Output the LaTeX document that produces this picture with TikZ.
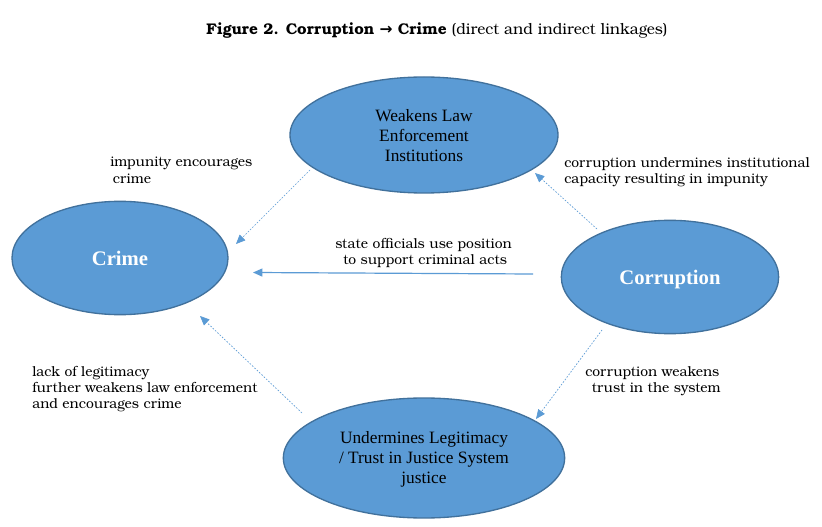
\documentclass[tikz,border=0pt]{standalone}
\usepackage{fontspec}
\setmainfont{Liberation Serif}
\newfontfamily\bonum{TeX Gyre Bonum}
\newfontfamily\arrowfont{DejaVu Sans}
\usetikzlibrary{shapes.geometric,arrows.meta}
\definecolor{ellfill}{HTML}{5B9BD5}
\definecolor{elldraw}{HTML}{41719C}
\definecolor{arrcol}{HTML}{5B9BD5}
\newcommand{\lowerby}[2]{\raisebox{-#1}[\height][\depth]{#2}}
\tikzset{
  bubble/.style={ellipse, draw=elldraw, line width=1pt, fill=ellfill, inner sep=0pt, align=center},
  bubtext/.style={font=\fontsize{13}{15}\selectfont},
  bigtext/.style={font=\fontsize{15.5}{18}\selectfont\bfseries, text=white},
  lbl/.style={font=\bonum\fontsize{10.4}{12.2}\selectfont, align=left, inner sep=0pt, anchor=north west},
  dotarrow/.style={draw=arrcol, line width=0.5pt, dash pattern=on 1.2pt off 1.2pt, -{Triangle[length=7pt,width=6pt,fill=arrcol]}},
  solidarrow/.style={draw=arrcol, line width=0.9pt, -{Triangle[length=7pt,width=6pt,fill=arrcol]}}
}
\begin{document}
\begin{tikzpicture}[x=0.75pt,y=-0.75pt]
\useasboundingbox[fill=white] (0,0) rectangle (822,527);
% title
\node[font=\bonum\fontsize{11.6}{13}\selectfont, anchor=base, inner sep=0pt] (title) at (437,35)
  {\textbf{Figure 2. Corruption {\arrowfont\bfseries →} Crime} (direct and indirect linkages)};
% ellipses
\node[bubble, bubtext, minimum width=201pt, minimum height=87pt] (weak) at (424,135)
  {\lowerby{2pt}{\begin{tabular}{@{}c@{}}Weakens Law\\Enforcement\\Institutions\end{tabular}}};
\node[bubble, bigtext, minimum width=162pt, minimum height=85pt] (crime) at (120,258) {Crime};
\node[bubble, bigtext, minimum width=163pt, minimum height=85pt] (corr) at (670,277) {\lowerby{2pt}{Corruption}};
\node[bubble, bubtext, minimum width=211pt, minimum height=90pt] (legit) at (424,458)
  {\lowerby{1.5pt}{\begin{tabular}{@{}c@{}}Undermines Legitimacy\\/ Trust in Justice System\\justice\end{tabular}}};
% connector end points
\coordinate (a1s) at (310,170); \coordinate (a1e) at (236,244);
\coordinate (a2s) at (533,274); \coordinate (a2e) at (253,272.5);
\coordinate (a3s) at (597,229); \coordinate (a3e) at (535,173);
\coordinate (a4s) at (602,330); \coordinate (a4e) at (536,419);
\coordinate (a5s) at (302,413); \coordinate (a5e) at (200,316);
\draw[dotarrow] (a1s) -- (a1e);
\draw[solidarrow] (a2s) -- (a2e);
\draw[dotarrow] (a3s) -- (a3e);
\draw[dotarrow] (a4s) -- (a4e);
\draw[dotarrow] (a5s) -- (a5e);
% labels
\node[lbl] (l1) at (110,157) {impunity encourages\\\hspace*{2pt}crime};
\node[lbl] (l2) at (335,238) {state officials use position\\\hspace*{6pt}to support criminal acts};
\node[lbl] (l3) at (564,157) {corruption undermines institutional\\capacity resulting in impunity};
\node[lbl] (l4) at (585,366) {corruption weakens\\\hspace*{5pt}trust in the system};
\node[lbl] (l5) at (32,366) {lack of legitimacy\\further weakens law enforcement\\and encourages crime};
\end{tikzpicture}
\end{document}
